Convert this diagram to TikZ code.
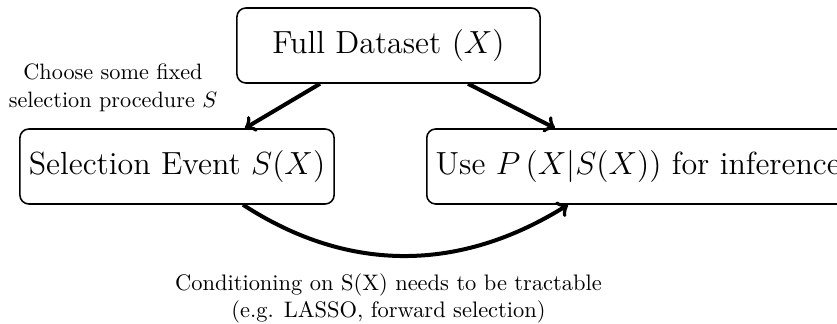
\documentclass[tikz,border=0pt]{standalone}
\usetikzlibrary{calc}
\begin{document}
\begin{tikzpicture}[x=0.45pt,y=-0.45pt,
  box/.style={draw,line width=0.7pt,rounded corners=4pt,minimum height=33.75pt,
    inner xsep=4pt,font=\fontsize{14.4}{17}\selectfont},
  conn/.style={line width=1.8pt,->},
  note/.style={align=center,inner sep=0pt}]
\useasboundingbox (0,0) rectangle (837,324);
\node[box,minimum width=136.4pt] (full) at (388.5,45.5) {Full Dataset $(X)$};
\node[box,minimum width=141.3pt] (sel) at (177,166.5) {Selection Event $S(X)$};
\node[box,anchor=west] (use) at (426,166.5) {Use $P\left(X|S(X)\right)$ for inference};
\node[note,font=\fontsize{10}{12.6}\selectfont] (choose) at (113,88) {Choose some fixed\\selection procedure $S$};
\node[note,font=\fontsize{10.1}{12.2}\selectfont] (cond) at (388.5,298.5) {Conditioning on S(X) needs to be tractable\\(e.g. LASSO, forward selection)};
\draw[conn] ($(full.south)+(-68.5,0)$) -- ($(sel.north)+(68,0)$);
\draw[conn] ($(full.south)+(79.5,0)$) -- ($(use.north west)+(129,0)$);
\draw[conn] ($(sel.south)+(66,0)$) to[out=-33,in=-148] ($(use.south west)+(142,0)$);
\end{tikzpicture}
\end{document}
